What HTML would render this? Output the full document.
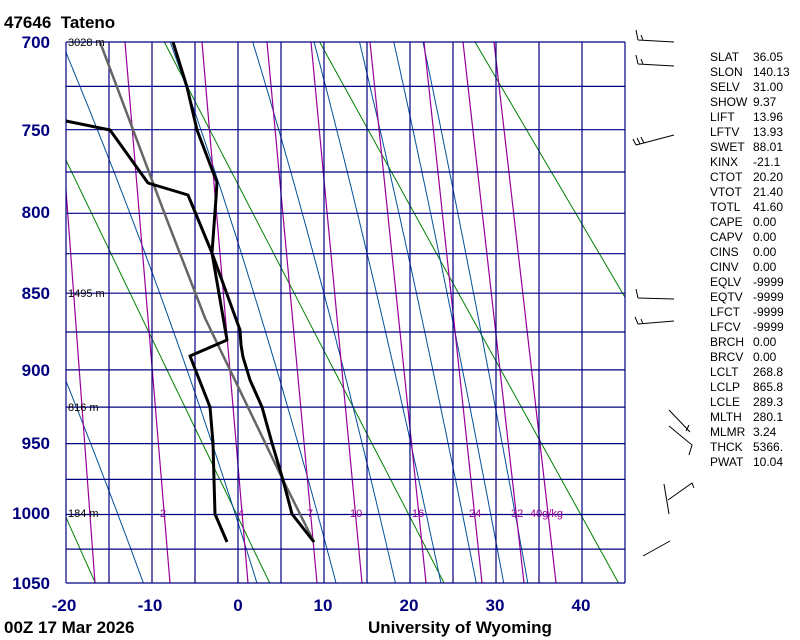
<!DOCTYPE html>
<html><head><meta charset="utf-8"><style>
html,body{margin:0;padding:0;background:#fff;width:800px;height:640px;overflow:hidden}
svg{display:block}
text{font-family:"Liberation Sans",sans-serif}
</style></head><body>
<svg id="s" width="800" height="640" xmlns="http://www.w3.org/2000/svg">
<defs><clipPath id="c"><rect x="66" y="42" width="559" height="541"/></clipPath></defs>
<text x="4" y="28" font-size="17" font-weight="bold">47646&#160;&#160;Tateno</text>
<g id="plot" clip-path="url(#c)"></g>
<g id="grid" stroke="#000080" stroke-width="1.2" fill="none"></g>
<g id="snd" fill="none" stroke-linejoin="round"></g>
<g font-size="17" font-weight="bold" fill="#00007f" text-anchor="end">
<text x="50" y="48">700</text><text x="50" y="136">750</text><text x="50" y="218">800</text>
<text x="50" y="299">850</text><text x="50" y="376">900</text><text x="50" y="449">950</text>
<text x="50" y="519">1000</text><text x="50" y="589">1050</text>
</g>
<g font-size="17" font-weight="bold" fill="#00007f" text-anchor="middle">
<text x="64" y="611">-20</text><text x="150" y="611">-10</text><text x="238" y="611">0</text>
<text x="323" y="611">10</text><text x="409" y="611">20</text><text x="495" y="611">30</text><text x="581" y="611">40</text>
</g>
<text x="4" y="633" font-size="17" font-weight="bold">00Z 17 Mar 2026</text>
<text x="368" y="633" font-size="17" font-weight="bold">University of Wyoming</text>
<g font-size="11" fill="#000">
<text x="68" y="46">3028 m</text><text x="68" y="297">1495 m</text><text x="68" y="411">816 m</text><text x="68" y="517">184 m</text>
</g>
<g font-size="11" fill="#990099">
<text x="160" y="517">2</text><text x="238" y="517">4</text><text x="307" y="517">7</text><text x="350" y="517">10</text>
<text x="412" y="517">16</text><text x="469" y="517">24</text><text x="511" y="517">32</text><text x="530" y="517">40g/kg</text>
</g>
<g stroke="#000" stroke-width="1" fill="none">
<path d="M638 40 L674 42 M638 40 L636 30 M643 40 L641 35"/>
<path d="M638 64 L674 66 M638 64 L636 55 M643 64 L641 59"/>
<path d="M636 145 L674 135 M636 145 L633 139 M640 144 L637 138 M644 143 L641 137"/>
<path d="M638 298 L674 299 M638 298 L636 289"/>
<path d="M638 324 L674 321 M638 324 L635 317 M643 324 L641 319"/>
<path d="M669 410 L690 432 M686 431 L689 425"/>
<path d="M669 426 L692 445 L689 455"/>
<path d="M664 484 L669 514 M668 500 L692 483 L694 488"/>
<path d="M643 556 L670 541"/>
</g>
<g font-size="12" fill="#000" id="stats"></g>
</svg>
<script>
var NS="http://www.w3.org/2000/svg";
var K=0.286,A=Math.pow(700,K),B=Math.pow(1050,K);
function yP(p){return 42+541*(Math.pow(p,K)-A)/(B-A);}
function xT(t){return 66+(t+20)*8.6;}
function el(g,tag,at){var e=document.createElementNS(NS,tag);for(var k in at)e.setAttribute(k,at[k]);document.getElementById(g).appendChild(e);return e;}
[253,273,293,313,333].forEach(function(th){
 var pts=[];for(var p=700;p<=1050;p+=10){pts.push(xT(th*Math.pow(p/1000,K)-273.15).toFixed(1)+","+yP(p).toFixed(1));}
 el("plot","polyline",{points:pts.join(" "),stroke:"#008000","stroke-width":"1",fill:"none"});
});
[-11,2.2,11.4,18.3,23.6,27.7,30.9,33.7].forEach(function(t0){
 var T=t0+273.15,pts=[];
 for(var p=1050;p>=699;p-=2){
  pts.push(xT(T-273.15).toFixed(1)+","+yP(p).toFixed(1));
  var tc=T-273.15,es=6.112*Math.exp(17.67*tc/(tc+243.5)),rs=0.622*es/(p-es);
  var d=(287*T+2.5e6*rs)/(p*(1004+2.5e6*2.5e6*rs*0.622/(287*T*T)));
  T+=d*(-2);
 }
 el("plot","polyline",{points:pts.join(" "),stroke:"#00509a","stroke-width":"1",fill:"none"});
});
[[95,66,190],[170,125],[248,202],[317,267],[362,311],[426,370],[482,424],[524,463],[556,494]].forEach(function(m){
 var d;
 if(m.length==3){var s=(m[0]-m[1])/(583-m[2]);d="M"+m[0]+" 583 L"+(m[0]-s*541)+" 42";}
 else d="M"+m[0]+" 583 L"+m[1]+" 42";
 el("plot","path",{d:d,stroke:"#990099","stroke-width":"1.2",fill:"none"});
});
for(var x=66;x<=626;x+=43)el("grid","line",{x1:x,y1:42,x2:x,y2:583});
[700,725,750,775,800,825,850,875,900,925,950,975,1000,1025,1050].forEach(function(p){var y=yP(p).toFixed(1);el("grid","line",{x1:66,y1:y,x2:625,y2:y});});
el("snd","polyline",{points:"314,542 283,480 205,318 167,220 100,42",stroke:"#666","stroke-width":"2.5"});
el("snd","polyline",{points:"173,42 187,87 197,130 213,172 217,182 216,198 212,253 240,330 241,345 243,357 250,380 262,407 272,443 283,480 292,514 314,542",stroke:"#000","stroke-width":"3"});
el("snd","polyline",{points:"66,121 110,130 148,183 188,195 212,253 227,340 190,356 210,407 213,443 214,480 215,514 227,542",stroke:"#000","stroke-width":"3"});
var st=[["SLAT","36.05"],["SLON","140.13"],["SELV","31.00"],["SHOW","9.37"],["LIFT","13.96"],["LFTV","13.93"],["SWET","88.01"],["KINX","-21.1"],["CTOT","20.20"],["VTOT","21.40"],["TOTL","41.60"],["CAPE","0.00"],["CAPV","0.00"],["CINS","0.00"],["CINV","0.00"],["EQLV","-9999"],["EQTV","-9999"],["LFCT","-9999"],["LFCV","-9999"],["BRCH","0.00"],["BRCV","0.00"],["LCLT","268.8"],["LCLP","865.8"],["LCLE","289.3"],["MLTH","280.1"],["MLMR","3.24"],["THCK","5366."],["PWAT","10.04"]];
st.forEach(function(r,i){var y=(61+i*15).toFixed(1);el("stats","text",{x:710,y:y}).textContent=r[0];el("stats","text",{x:753,y:y}).textContent=r[1];});
</script>
</body></html>
